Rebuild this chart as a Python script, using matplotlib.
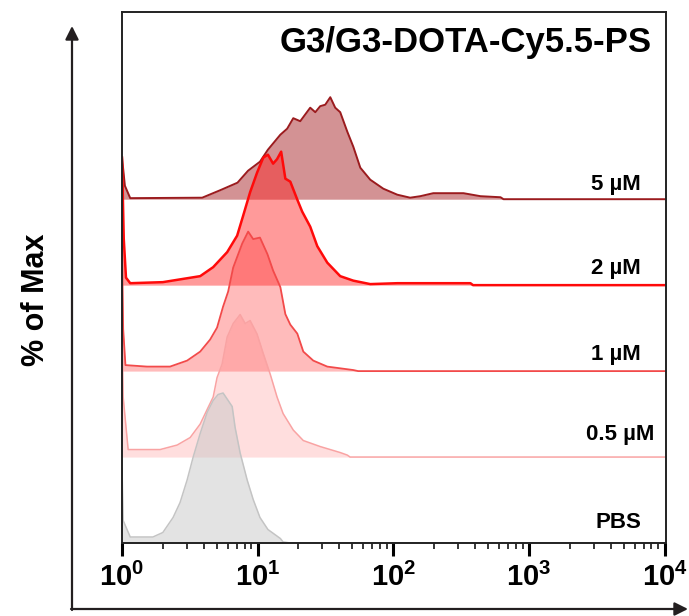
"""Stacked flow cytometry histograms (% of Max vs fluorescence)."""

import matplotlib
matplotlib.use("Agg")
import matplotlib.pyplot as plt
from matplotlib.patches import FancyArrowPatch
from matplotlib.ticker import LogLocator, NullFormatter, FixedLocator

plt.rcParams["font.family"] = ["Liberation Sans", "DejaVu Sans"]
plt.rcParams["font.weight"] = "bold"
plt.rcParams["mathtext.fontset"] = "custom"
plt.rcParams["mathtext.rm"] = "Liberation Sans:bold"
plt.rcParams["mathtext.bf"] = "Liberation Sans:bold"

# fluorescence intensity / % of max
int_5uM = [1.0, 1.05, 1.15, 3.9, 5.3, 7.1, 8.5, 10.4, 11.9, 14.7, 16.5, 18.3, 20.6,
           24.4, 26.6, 28.9, 31.5, 34.3, 37.3, 40.6, 45.8, 50.7, 57.1, 67.6, 84.4,
           107, 133, 158, 197, 329, 439, 617, 649, 10000]
pct_5uM = [28, 9, 0.7, 1, 6, 11, 19, 25, 33, 43, 47, 54, 52,
           61, 58, 62, 63, 68, 61, 58, 45, 35, 21, 13, 7,
           3, 1, 2, 4, 4, 2, 1.3, 0, 0]

int_2uM = [1.0, 1.03, 1.07, 1.15, 2.0, 3.77, 4.7, 5.96, 7.06, 7.8, 8.8, 9.9, 11.0,
           11.9, 13.0, 13.9, 14.9, 16.0, 17.4, 19.6, 21.3, 24.4, 27.5, 32.6, 40.6,
           50.7, 67.6, 107, 370, 387, 10000]
pct_2uM = [85, 31, 5, 1.3, 2, 6, 12, 22, 33, 46, 62, 75, 85,
           87, 81, 84, 89, 71, 69, 57, 49, 39, 26, 15, 6,
           3, 0.7, 1.3, 1.3, 0, 0]

int_1uM = [1.0, 1.02, 1.06, 1.53, 2.26, 3.02, 3.77, 4.46, 5.02, 5.56, 6.06, 6.6, 7.69,
           8.51, 9.27, 10.4, 11.8, 13.0, 14.7, 16.0, 17.4, 19.6, 21.7, 25.7, 32.6,
           50.7, 55, 10000]
pct_1uM = [83, 28, 4, 3, 3, 7, 13, 21, 29, 43, 53, 69, 85,
           93, 88, 89, 78, 67, 56, 38, 31, 25, 13, 7, 3,
           0.7, 0, 0]

int_05uM = [1.0, 1.02, 1.11, 1.36, 1.91, 2.55, 3.18, 3.77, 4.31, 4.7, 5.02, 5.47, 5.96,
            6.6, 7.43, 8.09, 8.8, 9.9, 11.0, 12.4, 13.9, 15.4, 18.3, 21.7, 28.9,
            40.6, 45.8, 48, 10000]
pct_05uM = [83, 40, 5, 5, 5, 8, 13, 22, 33, 40, 53, 62, 80,
            89, 95, 89, 91, 82, 69, 55, 40, 29, 18, 11, 7,
            3, 1.3, 0, 0]

int_pbs = [1.0, 1.02, 1.15, 1.69, 2.0, 2.38, 2.68, 3.02, 3.34, 3.77, 4.24, 4.7, 5.11,
           5.56, 6.06, 6.49, 6.82, 7.43, 8.37, 9.27, 10.4, 11.9, 14.7, 15.4, 17.4, 10000]
pct_pbs = [50, 15, 4, 4, 7, 17, 27, 42, 57, 73, 87, 95, 99,
           100, 95, 91, 77, 60, 42, 29, 17, 9, 3, 0.7, 0, 0]

labels = ["5 µM", "2 µM", "1 µM", "0.5 µM", "PBS"]
x_ticklabels = [r"$\mathbf{10^{0}}$", r"$\mathbf{10^{1}}$", r"$\mathbf{10^{2}}$",
                r"$\mathbf{10^{3}}$", r"$\mathbf{10^{4}}$"]

series = [
    # (x, y, line colour, fill colour, fill alpha, line width, row index from bottom)
    (int_5uM, pct_5uM, "#9b1b1e", "#a8272a", 0.5, 1.4, 4),
    (int_2uM, pct_2uM, "#ff0a0a", "#ff2020", 0.45, 1.8, 3),
    (int_1uM, pct_1uM, "#f24a4a", "#ff3a3a", 0.34, 1.3, 2),
    (int_05uM, pct_05uM, "#f9a3a3", "#ff6a6a", 0.22, 1.1, 1),
    (int_pbs, pct_pbs, "#c4c4c4", "#c8c8c8", 0.5, 1.1, 0),
]
ROW_STEP = 57.3
label_dy = [10, 11, 11, 15, 14]
label_x = [0.954, 0.954, 0.954, 0.978, 0.954]

fig = plt.figure(figsize=(6.89, 6.16), dpi=100)
ax = fig.add_axes([122 / 689, 73 / 616, 544 / 689, 531 / 616])

for x, y, lc, fc, fa, lw, row in series:
    base = row * ROW_STEP
    ys = [base + v for v in y]
    ax.fill_between(x, base, ys, color=fc, alpha=fa, linewidth=0)
    ax.plot(x, ys, color=lc, linewidth=lw)

for i, lab in enumerate(labels):
    row = 4 - i
    ax.text(label_x[i], row * ROW_STEP + label_dy[i], lab, transform=ax.get_yaxis_transform(),
            ha="right", va="center", fontsize=16, fontweight="bold")

ax.text(0.974, 0.943, "G3/G3-DOTA-Cy5.5-PS", transform=ax.transAxes,
        ha="right", va="center", fontsize=25, fontweight="bold")

ax.set_xscale("log")
ax.set_xlim(1, 10 ** 4.01)
ax.set_ylim(0, 354)
ax.xaxis.set_major_locator(FixedLocator([1, 10, 100, 1000, 10000]))
ax.set_xticklabels(x_ticklabels, fontsize=21)
ax.xaxis.set_minor_locator(LogLocator(base=10, subs=range(2, 10)))
ax.xaxis.set_minor_formatter(NullFormatter())
ax.tick_params(axis="x", which="major", direction="out", length=9, width=2.2, pad=5, color="black")
ax.tick_params(axis="x", which="minor", direction="out", length=4.5, width=1.1, color="black")
ax.set_yticks([])
for sp in ax.spines.values():
    sp.set_linewidth(1.4)
    sp.set_color("#222222")

arrow_kw = dict(transform=fig.transFigure, arrowstyle="-|>", mutation_scale=20,
                linewidth=1.6, color="#231f20", shrinkA=0, shrinkB=0)
fig.add_artist(FancyArrowPatch((72 / 689, 1 - 610 / 616), (72 / 689, 1 - 26 / 616), **arrow_kw))
fig.add_artist(FancyArrowPatch((71 / 689, 1 - 609 / 616), (688 / 689, 1 - 609 / 616), **arrow_kw))

fig.text(36 / 689, 1 - 300 / 616, "% of Max", rotation=90, ha="center", va="center",
         fontsize=22, fontweight="bold")

fig.savefig("out.png", dpi=100)
